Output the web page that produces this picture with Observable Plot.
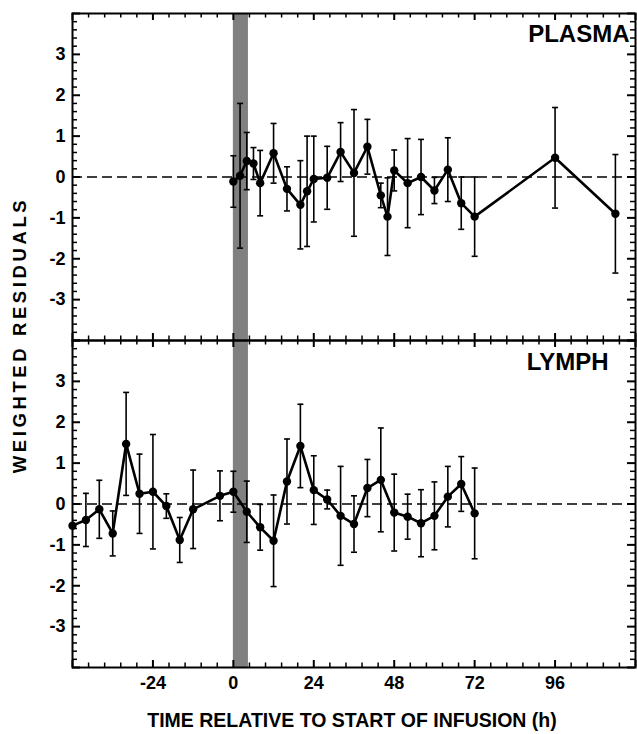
<!DOCTYPE html>
<html>
<head>
<meta charset="utf-8">
<script src="https://cdn.jsdelivr.net/npm/d3@7"></script>
<script src="https://cdn.jsdelivr.net/npm/@observablehq/plot@0.6"></script>
<style>
  html, body { margin: 0; padding: 0; background: #fff; }
  #chart svg { display: block; }
</style>
</head>
<body>
<div id="chart"></div>
<script>
// ---- data ----
const panels = ["PLASMA", "LYMPH"];

const plasmaTime  = [0, 2, 4, 6, 8, 12, 16, 20, 22, 24, 28, 32, 36, 40, 44, 46, 48, 52, 56, 60, 64, 68, 72, 96, 114];
const plasmaResid = [-0.11, 0.03, 0.39, 0.33, -0.15, 0.58, -0.29, -0.68, -0.35, -0.05, -0.02, 0.61, 0.10, 0.74, -0.45, -0.97, 0.16, -0.15, 0.0, -0.33, 0.18, -0.64, -0.97, 0.47, -0.90];
const plasmaErr   = [0.63, 1.77, 0.70, 0.39, 0.80, 0.73, 0.54, 1.08, 1.35, 1.05, 0.77, 0.72, 1.55, 0.67, 0.30, 0.95, 0.50, 1.09, 0.92, 0.32, 0.78, 0.64, 0.97, 1.23, 1.45];

const lymphTime  = [-48, -44, -40, -36, -32, -28, -24, -20, -16, -12, -4, 0, 4, 8, 12, 16, 20, 24, 28, 32, 36, 40, 44, 48, 52, 56, 60, 64, 68, 72];
const lymphResid = [-0.53, -0.39, -0.13, -0.72, 1.47, 0.25, 0.30, -0.05, -0.88, -0.13, 0.20, 0.30, -0.19, -0.57, -0.90, 0.55, 1.42, 0.34, 0.11, -0.29, -0.49, 0.39, 0.59, -0.21, -0.31, -0.47, -0.29, 0.18, 0.49, -0.23];
const lymphErr   = [0, 0.65, 0.71, 0.55, 1.26, 0.97, 1.40, 0.30, 0.55, 0.96, 0.61, 0.50, 0.75, 0.56, 1.12, 1.04, 1.02, 0.84, 0.23, 1.21, 0.69, 0.70, 1.27, 0.94, 0.55, 0.82, 0.83, 0.74, 0.67, 1.11];

const infusion = [{start: 0, end: 4.5}];

const xTicks = [-24, 0, 24, 48, 72, 96];
const xDomain = [-48, 120];
const yTicks = [-3, -2, -1, 0, 1, 2, 3];
const yDomain = [-4, 4];

const xTitle = "TIME RELATIVE TO START OF INFUSION (h)";
const yTitle = "WEIGHTED RESIDUALS";

// ---- layout ----
const W = 637, H = 734, mL = 72, mR = 2, mT = 13, mB = 67;
const plotW = W - mL - mR;
const panelH = (H - mT - mB) / panels.length;

// ---- build rows ----
const rows = [
  ...plasmaTime.map((t, i) => ({panel: "PLASMA", t, r: plasmaResid[i], err: plasmaErr[i]})),
  ...lymphTime.map((t, i) => ({panel: "LYMPH", t, r: lymphResid[i], err: lymphErr[i]}))
];
const bars = rows.filter(d => d.err > 0);

// tick positions: majors every 24 h / 1 unit, minors at fifths
const xMajor = Array.from({length: 8}, (_, i) => xDomain[0] + 24 * i);
const xMinor = Array.from({length: 36}, (_, i) => i).filter(i => i % 5 !== 0).map(i => xDomain[0] + 4.8 * i);
const yMajor = Array.from({length: 9}, (_, i) => yDomain[0] + i);
const yMinor = Array.from({length: 41}, (_, i) => i).filter(i => i % 5 !== 0).map(i => +(yDomain[0] + 0.2 * i).toFixed(2));
const perPanel = vals => panels.flatMap(p => vals.map(v => ({panel: p, v})));

const capSymbol = {
  draw(context, size) {
    const w = Math.sqrt(size / Math.PI);
    context.moveTo(-w, 0);
    context.lineTo(w, 0);
  }
};

const fmt = d => `${d}`;

// inward ticks drawn as inset tick marks in every panel
const yTick = (vals, side, len, sw) =>
  Plot.tickY(perPanel(vals), {y: "v", fy: "panel", stroke: "#000", strokeWidth: sw,
    insetLeft: side === "left" ? 0 : plotW - len, insetRight: side === "left" ? plotW - len : 0});
const xTick = (vals, side, len, sw) =>
  Plot.tickX(perPanel(vals), {x: "v", fy: "panel", stroke: "#000", strokeWidth: sw,
    insetTop: side === "bottom" ? panelH - len : 0, insetBottom: side === "bottom" ? 0 : panelH - len});

const chart = Plot.plot({
  width: W,
  height: H,
  marginLeft: mL,
  marginRight: mR,
  marginTop: mT,
  marginBottom: mB,
  style: {fontFamily: "'Liberation Sans', Arial, sans-serif", fontWeight: "bold", fontSize: "18px", background: "#fff", color: "#000"},
  x: {domain: xDomain},
  y: {domain: yDomain},
  fy: {domain: panels, padding: 0, axis: null},
  marks: [
    Plot.rect(infusion, {x1: "start", x2: "end", fill: "#808080"}),
    Plot.ruleY([0], {stroke: "#000", strokeWidth: 1.6, strokeDasharray: "10,5"}),
    Plot.ruleX(bars, {x: "t", y1: d => d.r - d.err, y2: d => d.r + d.err, fy: "panel", stroke: "#000", strokeWidth: 1.6}),
    Plot.dot(bars, {x: "t", y: d => d.r + d.err, fy: "panel", symbol: capSymbol, r: 3, stroke: "#000", strokeWidth: 1.6, fill: "none"}),
    Plot.dot(bars, {x: "t", y: d => d.r - d.err, fy: "panel", symbol: capSymbol, r: 3, stroke: "#000", strokeWidth: 1.6, fill: "none"}),
    Plot.line(rows, {x: "t", y: "r", fy: "panel", stroke: "#000", strokeWidth: 2.6}),
    Plot.dot(rows, {x: "t", y: "r", fy: "panel", r: 4.2, fill: "#000", stroke: "none"}),
    // inward ticks
    yTick(yMajor, "left", 8, 2),
    yTick(yMinor, "left", 5, 1.5),
    yTick(yMajor, "right", 8, 2),
    yTick(yMinor, "right", 5, 1.5),
    xTick(xMajor, "bottom", 7, 2),
    xTick(xMinor, "bottom", 4.5, 1.5),
    xTick(xMajor, "top", 7, 2),
    xTick(xMinor, "top", 4.5, 1.5),
    Plot.frame({stroke: "#000", strokeWidth: 2}),
    // tick labels
    Plot.axisY(yTicks, {anchor: "left", tickSize: 0, tickPadding: 7, tickFormat: fmt, label: null, fontSize: 18}),
    Plot.axisX(xTicks, {anchor: "bottom", tickSize: 0, tickPadding: 9, tickFormat: fmt, label: null, fontSize: 18}),
    // panel labels
    Plot.text([{panel: "PLASMA"}], {fy: "panel", text: "panel", frameAnchor: "top-right", textAnchor: "end", lineAnchor: "top", dx: -6, dy: 11, fontSize: 24, fontWeight: "bold"}),
    Plot.text([{panel: "LYMPH"}], {fy: "panel", text: "panel", frameAnchor: "top-right", textAnchor: "end", lineAnchor: "top", dx: -27, dy: 12, fontSize: 24, fontWeight: "bold"})
  ]
});

document.getElementById("chart").append(chart);

// axis titles
const svg = d3.select(chart);
svg.append("text")
  .attr("x", 352)
  .attr("y", 722)
  .attr("text-anchor", "middle")
  .attr("dominant-baseline", "middle")
  .attr("font-size", 19.5)
  .attr("font-weight", "bold")
  .attr("fill", "#000")
  .text(xTitle);
svg.append("text")
  .attr("transform", "translate(21,335) rotate(-90)")
  .attr("text-anchor", "middle")
  .attr("dominant-baseline", "middle")
  .attr("font-size", 18.5)
  .attr("font-weight", "bold")
  .attr("letter-spacing", 3.6)
  .attr("fill", "#000")
  .text(yTitle);
</script>
</body>
</html>
